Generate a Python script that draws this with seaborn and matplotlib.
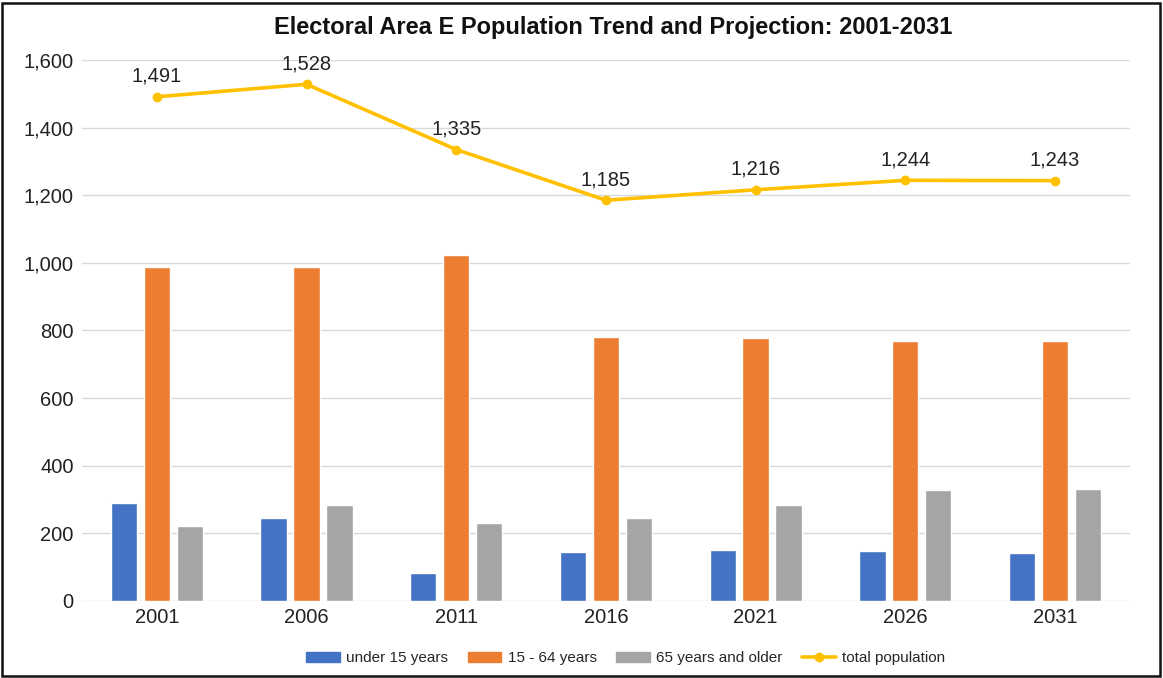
import matplotlib
matplotlib.use("Agg")
import matplotlib.pyplot as plt
import seaborn as sns
import pandas as pd
import numpy as np
from matplotlib.patches import Rectangle
from matplotlib.lines import Line2D
from matplotlib.ticker import FuncFormatter

years = ["2001", "2006", "2011", "2016", "2021", "2026", "2031"]
under_15 = [290, 245, 83, 145, 151, 148, 142]
age_15_64 = [988, 988, 1023, 781, 778, 769, 769]
age_65_plus = [222, 284, 231, 245, 284, 328, 331]
total_population = [1491, 1528, 1335, 1185, 1216, 1244, 1243]
series_names = ["under 15 years", "15 - 64 years", "65 years and older"]
line_name = "total population"
title = "Electoral Area E Population Trend and Projection: 2001-2031"

colors = ["#4472C4", "#ED7D31", "#A5A5A5"]
line_color = "#FFC000"

sns.set_theme(style="white")
plt.rcParams['font.family'] = ['Liberation Sans', 'DejaVu Sans']

df = pd.DataFrame({
    "year": years * 3,
    "value": under_15 + age_15_64 + age_65_plus,
    "group": [series_names[0]] * 7 + [series_names[1]] * 7 + [series_names[2]] * 7,
})

fig = plt.figure(figsize=(11.63, 6.78), dpi=100)
ax = fig.add_axes([0.0705, 0.1136, 0.901, 0.798])

sns.barplot(data=df, x="year", y="value", hue="group", hue_order=series_names,
            palette=colors, width=0.66, gap=0.2, ax=ax, legend=False,
            saturation=1, errorbar=None)

xs = np.arange(len(years))
sns.lineplot(x=xs, y=total_population, color=line_color, linewidth=2.6,
             marker="o", markersize=7, markeredgewidth=0, ax=ax, legend=False)

for x, v in zip(xs, total_population):
    ax.annotate(f"{v:,}", (x, v), xytext=(0, 8), textcoords="offset points",
                ha="center", va="bottom", fontsize=14.5, color="#222222")

ax.set_xlim(-0.5, 6.5)
ax.set_ylim(0, 1600)
ax.set_yticks(range(0, 1601, 200))
ax.yaxis.set_major_formatter(FuncFormatter(lambda v, p: f"{int(v):,}"))
ax.grid(axis="y", color="#D9D9D9", linewidth=1)
ax.set_axisbelow(True)
for s in ax.spines.values():
    s.set_visible(False)
ax.set_xlabel("")
ax.set_ylabel("")
ax.tick_params(axis="both", labelsize=14.5, colors="#222222", length=0, pad=5)
ax.tick_params(axis="y", pad=6)

fig.text(0.527, 0.960, title, ha="center", va="center", fontsize=17,
         fontweight="bold", color="#111111")

handles = [Rectangle((0, 0), 1, 1, color=c) for c in colors]
handles.append(Line2D([0], [0], color=line_color, linewidth=2.6, marker="o", markersize=6))
fig.legend(handles, series_names + [line_name], loc="center", bbox_to_anchor=(0.538, 0.029),
           ncol=4, frameon=False, fontsize=11, handlelength=2.2, handleheight=0.6,
           columnspacing=1.3, handletextpad=0.4)

fig.add_artist(Rectangle((0.002, 0.003), 0.995, 0.993, transform=fig.transFigure,
                         fill=False, edgecolor="#111111", linewidth=1.8))

fig.savefig("out.png", dpi=100)
